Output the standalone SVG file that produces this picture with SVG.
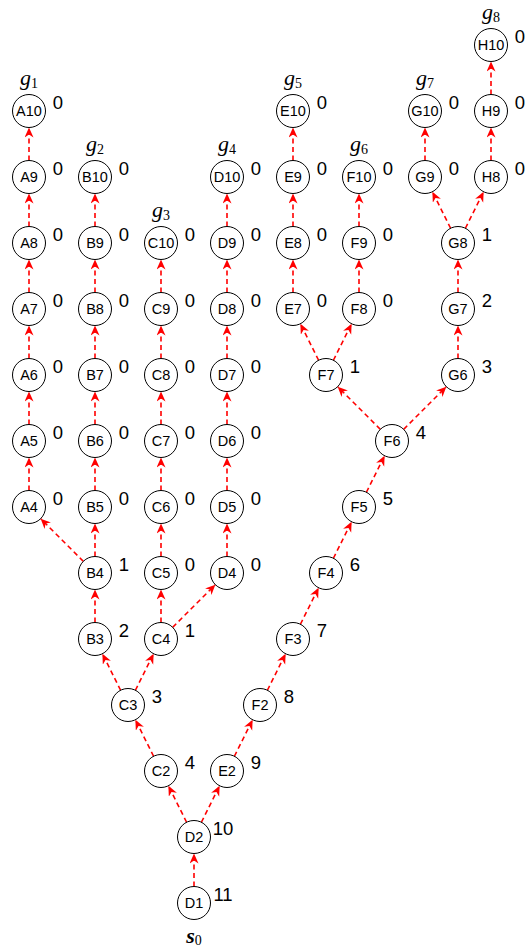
<svg xmlns="http://www.w3.org/2000/svg" width="527" height="950" viewBox="0 0 527 950">
<style>
.n circle{fill:#fff;stroke:#000;stroke-width:1}
.n text.t{font-family:"Liberation Sans",Arial,sans-serif;font-size:14.5px;text-anchor:middle;fill:#000}
.n text.v{font-family:"Liberation Sans",Arial,sans-serif;font-size:18.5px;text-anchor:middle;fill:#000}
.g{font-family:"Liberation Serif","Times New Roman",serif;font-style:italic;font-size:22px;text-anchor:middle;fill:#000}
.g tspan{font-style:normal;font-weight:normal;font-size:14px}
#edges line{stroke:#f00;stroke-width:1.6;stroke-dasharray:5,3.5;marker-end:url(#ah)}
</style>
<defs>
<marker id="ah" markerUnits="userSpaceOnUse" markerWidth="11" markerHeight="10" refX="10" refY="4.5" orient="auto">
<path d="M0,0 L10,4.5 L0,9 L3,4.5 Z" fill="#f00"/>
</marker>
</defs>
<rect width="527" height="950" fill="#fff"/>
<g id="edges">
<line x1="194" y1="886.5" x2="194" y2="853.5"/>
<line x1="186.62" y1="822.24" x2="168.38" y2="785.76"/>
<line x1="201.38" y1="822.24" x2="219.62" y2="785.76"/>
<line x1="153.62" y1="756.24" x2="135.38" y2="719.76"/>
<line x1="120.62" y1="690.24" x2="102.38" y2="653.76"/>
<line x1="135.38" y1="690.24" x2="153.62" y2="653.76"/>
<line x1="95" y1="622.5" x2="95" y2="589.5"/>
<line x1="161" y1="622.5" x2="161" y2="589.5"/>
<line x1="172.67" y1="627.33" x2="215.33" y2="584.67"/>
<line x1="83.33" y1="561.33" x2="40.67" y2="518.67"/>
<line x1="95" y1="556.5" x2="95" y2="523.5"/>
<line x1="29" y1="490.5" x2="29" y2="457.5"/>
<line x1="29" y1="424.5" x2="29" y2="391.5"/>
<line x1="29" y1="358.5" x2="29" y2="325.5"/>
<line x1="29" y1="292.5" x2="29" y2="259.5"/>
<line x1="29" y1="226.5" x2="29" y2="193.5"/>
<line x1="29" y1="160.5" x2="29" y2="127.5"/>
<line x1="95" y1="490.5" x2="95" y2="457.5"/>
<line x1="95" y1="424.5" x2="95" y2="391.5"/>
<line x1="95" y1="358.5" x2="95" y2="325.5"/>
<line x1="95" y1="292.5" x2="95" y2="259.5"/>
<line x1="95" y1="226.5" x2="95" y2="193.5"/>
<line x1="161" y1="556.5" x2="161" y2="523.5"/>
<line x1="161" y1="490.5" x2="161" y2="457.5"/>
<line x1="161" y1="424.5" x2="161" y2="391.5"/>
<line x1="161" y1="358.5" x2="161" y2="325.5"/>
<line x1="161" y1="292.5" x2="161" y2="259.5"/>
<line x1="227" y1="556.5" x2="227" y2="523.5"/>
<line x1="227" y1="490.5" x2="227" y2="457.5"/>
<line x1="227" y1="424.5" x2="227" y2="391.5"/>
<line x1="227" y1="358.5" x2="227" y2="325.5"/>
<line x1="227" y1="292.5" x2="227" y2="259.5"/>
<line x1="227" y1="226.5" x2="227" y2="193.5"/>
<line x1="234.38" y1="756.24" x2="252.62" y2="719.76"/>
<line x1="267.38" y1="690.24" x2="285.62" y2="653.76"/>
<line x1="300.38" y1="624.24" x2="318.62" y2="587.76"/>
<line x1="333.38" y1="558.24" x2="351.62" y2="521.76"/>
<line x1="366.38" y1="492.24" x2="384.62" y2="455.76"/>
<line x1="380.33" y1="429.33" x2="337.67" y2="386.67"/>
<line x1="403.67" y1="429.33" x2="446.33" y2="386.67"/>
<line x1="318.62" y1="360.24" x2="300.38" y2="323.76"/>
<line x1="333.38" y1="360.24" x2="351.62" y2="323.76"/>
<line x1="293" y1="292.5" x2="293" y2="259.5"/>
<line x1="293" y1="226.5" x2="293" y2="193.5"/>
<line x1="293" y1="160.5" x2="293" y2="127.5"/>
<line x1="359" y1="292.5" x2="359" y2="259.5"/>
<line x1="359" y1="226.5" x2="359" y2="193.5"/>
<line x1="458" y1="358.5" x2="458" y2="325.5"/>
<line x1="458" y1="292.5" x2="458" y2="259.5"/>
<line x1="450.62" y1="228.24" x2="432.38" y2="191.76"/>
<line x1="465.38" y1="228.24" x2="483.62" y2="191.76"/>
<line x1="425" y1="160.5" x2="425" y2="127.5"/>
<line x1="491" y1="160.5" x2="491" y2="127.5"/>
<line x1="491" y1="94.5" x2="491" y2="61.5"/>
</g>
<g id="D1" class="n"><circle cx="194" cy="903" r="16.5"/><text class="t" x="194" y="908">D1</text><text class="v" x="223" y="901">11</text></g>
<text class="g" x="194" y="943" font-weight="bold" font-size="21">s<tspan font-size="15" dy="2">0</tspan></text>
<g id="D2" class="n"><circle cx="194" cy="837" r="16.5"/><text class="t" x="194" y="842">D2</text><text class="v" x="223" y="835">10</text></g>
<g id="C2" class="n"><circle cx="161" cy="771" r="16.5"/><text class="t" x="161" y="776">C2</text><text class="v" x="190" y="769">4</text></g>
<g id="E2" class="n"><circle cx="227" cy="771" r="16.5"/><text class="t" x="227" y="776">E2</text><text class="v" x="256" y="769">9</text></g>
<g id="C3" class="n"><circle cx="128" cy="705" r="16.5"/><text class="t" x="128" y="710">C3</text><text class="v" x="157" y="703">3</text></g>
<g id="F2" class="n"><circle cx="260" cy="705" r="16.5"/><text class="t" x="260" y="710">F2</text><text class="v" x="289" y="703">8</text></g>
<g id="B3" class="n"><circle cx="95" cy="639" r="16.5"/><text class="t" x="95" y="644">B3</text><text class="v" x="124" y="637">2</text></g>
<g id="C4" class="n"><circle cx="161" cy="639" r="16.5"/><text class="t" x="161" y="644">C4</text><text class="v" x="190" y="637">1</text></g>
<g id="F3" class="n"><circle cx="293" cy="639" r="16.5"/><text class="t" x="293" y="644">F3</text><text class="v" x="322" y="637">7</text></g>
<g id="B4" class="n"><circle cx="95" cy="573" r="16.5"/><text class="t" x="95" y="578">B4</text><text class="v" x="124" y="571">1</text></g>
<g id="C5" class="n"><circle cx="161" cy="573" r="16.5"/><text class="t" x="161" y="578">C5</text><text class="v" x="190" y="571">0</text></g>
<g id="D4" class="n"><circle cx="227" cy="573" r="16.5"/><text class="t" x="227" y="578">D4</text><text class="v" x="256" y="571">0</text></g>
<g id="F4" class="n"><circle cx="326" cy="573" r="16.5"/><text class="t" x="326" y="578">F4</text><text class="v" x="355" y="571">6</text></g>
<g id="A4" class="n"><circle cx="29" cy="507" r="16.5"/><text class="t" x="29" y="512">A4</text><text class="v" x="58" y="505">0</text></g>
<g id="B5" class="n"><circle cx="95" cy="507" r="16.5"/><text class="t" x="95" y="512">B5</text><text class="v" x="124" y="505">0</text></g>
<g id="C6" class="n"><circle cx="161" cy="507" r="16.5"/><text class="t" x="161" y="512">C6</text><text class="v" x="190" y="505">0</text></g>
<g id="D5" class="n"><circle cx="227" cy="507" r="16.5"/><text class="t" x="227" y="512">D5</text><text class="v" x="256" y="505">0</text></g>
<g id="F5" class="n"><circle cx="359" cy="507" r="16.5"/><text class="t" x="359" y="512">F5</text><text class="v" x="388" y="505">5</text></g>
<g id="A5" class="n"><circle cx="29" cy="441" r="16.5"/><text class="t" x="29" y="446">A5</text><text class="v" x="58" y="439">0</text></g>
<g id="B6" class="n"><circle cx="95" cy="441" r="16.5"/><text class="t" x="95" y="446">B6</text><text class="v" x="124" y="439">0</text></g>
<g id="C7" class="n"><circle cx="161" cy="441" r="16.5"/><text class="t" x="161" y="446">C7</text><text class="v" x="190" y="439">0</text></g>
<g id="D6" class="n"><circle cx="227" cy="441" r="16.5"/><text class="t" x="227" y="446">D6</text><text class="v" x="256" y="439">0</text></g>
<g id="F6" class="n"><circle cx="392" cy="441" r="16.5"/><text class="t" x="392" y="446">F6</text><text class="v" x="421" y="439">4</text></g>
<g id="A6" class="n"><circle cx="29" cy="375" r="16.5"/><text class="t" x="29" y="380">A6</text><text class="v" x="58" y="373">0</text></g>
<g id="B7" class="n"><circle cx="95" cy="375" r="16.5"/><text class="t" x="95" y="380">B7</text><text class="v" x="124" y="373">0</text></g>
<g id="C8" class="n"><circle cx="161" cy="375" r="16.5"/><text class="t" x="161" y="380">C8</text><text class="v" x="190" y="373">0</text></g>
<g id="D7" class="n"><circle cx="227" cy="375" r="16.5"/><text class="t" x="227" y="380">D7</text><text class="v" x="256" y="373">0</text></g>
<g id="F7" class="n"><circle cx="326" cy="375" r="16.5"/><text class="t" x="326" y="380">F7</text><text class="v" x="355" y="373">1</text></g>
<g id="G6" class="n"><circle cx="458" cy="375" r="16.5"/><text class="t" x="458" y="380">G6</text><text class="v" x="487" y="373">3</text></g>
<g id="A7" class="n"><circle cx="29" cy="309" r="16.5"/><text class="t" x="29" y="314">A7</text><text class="v" x="58" y="307">0</text></g>
<g id="B8" class="n"><circle cx="95" cy="309" r="16.5"/><text class="t" x="95" y="314">B8</text><text class="v" x="124" y="307">0</text></g>
<g id="C9" class="n"><circle cx="161" cy="309" r="16.5"/><text class="t" x="161" y="314">C9</text><text class="v" x="190" y="307">0</text></g>
<g id="D8" class="n"><circle cx="227" cy="309" r="16.5"/><text class="t" x="227" y="314">D8</text><text class="v" x="256" y="307">0</text></g>
<g id="E7" class="n"><circle cx="293" cy="309" r="16.5"/><text class="t" x="293" y="314">E7</text><text class="v" x="322" y="307">0</text></g>
<g id="F8" class="n"><circle cx="359" cy="309" r="16.5"/><text class="t" x="359" y="314">F8</text><text class="v" x="388" y="307">0</text></g>
<g id="G7" class="n"><circle cx="458" cy="309" r="16.5"/><text class="t" x="458" y="314">G7</text><text class="v" x="487" y="307">2</text></g>
<g id="A8" class="n"><circle cx="29" cy="243" r="16.5"/><text class="t" x="29" y="248">A8</text><text class="v" x="58" y="241">0</text></g>
<g id="B9" class="n"><circle cx="95" cy="243" r="16.5"/><text class="t" x="95" y="248">B9</text><text class="v" x="124" y="241">0</text></g>
<g id="C10" class="n"><text class="g" x="161" y="217">g<tspan dy="3">3</tspan></text><circle cx="161" cy="243" r="16.5"/><text class="t" x="161" y="248">C10</text><text class="v" x="190" y="241">0</text></g>
<g id="D9" class="n"><circle cx="227" cy="243" r="16.5"/><text class="t" x="227" y="248">D9</text><text class="v" x="256" y="241">0</text></g>
<g id="E8" class="n"><circle cx="293" cy="243" r="16.5"/><text class="t" x="293" y="248">E8</text><text class="v" x="322" y="241">0</text></g>
<g id="F9" class="n"><circle cx="359" cy="243" r="16.5"/><text class="t" x="359" y="248">F9</text><text class="v" x="388" y="241">0</text></g>
<g id="G8" class="n"><circle cx="458" cy="243" r="16.5"/><text class="t" x="458" y="248">G8</text><text class="v" x="487" y="241">1</text></g>
<g id="A9" class="n"><circle cx="29" cy="177" r="16.5"/><text class="t" x="29" y="182">A9</text><text class="v" x="58" y="175">0</text></g>
<g id="B10" class="n"><text class="g" x="95" y="151">g<tspan dy="3">2</tspan></text><circle cx="95" cy="177" r="16.5"/><text class="t" x="95" y="182">B10</text><text class="v" x="124" y="175">0</text></g>
<g id="D10" class="n"><text class="g" x="227" y="151">g<tspan dy="3">4</tspan></text><circle cx="227" cy="177" r="16.5"/><text class="t" x="227" y="182">D10</text><text class="v" x="256" y="175">0</text></g>
<g id="E9" class="n"><circle cx="293" cy="177" r="16.5"/><text class="t" x="293" y="182">E9</text><text class="v" x="322" y="175">0</text></g>
<g id="F10" class="n"><text class="g" x="359" y="151">g<tspan dy="3">6</tspan></text><circle cx="359" cy="177" r="16.5"/><text class="t" x="359" y="182">F10</text><text class="v" x="388" y="175">0</text></g>
<g id="G9" class="n"><circle cx="425" cy="177" r="16.5"/><text class="t" x="425" y="182">G9</text><text class="v" x="454" y="175">0</text></g>
<g id="H8" class="n"><circle cx="491" cy="177" r="16.5"/><text class="t" x="491" y="182">H8</text><text class="v" x="520" y="175">0</text></g>
<g id="A10" class="n"><text class="g" x="29" y="85">g<tspan dy="3">1</tspan></text><circle cx="29" cy="111" r="16.5"/><text class="t" x="29" y="116">A10</text><text class="v" x="58" y="109">0</text></g>
<g id="E10" class="n"><text class="g" x="293" y="85">g<tspan dy="3">5</tspan></text><circle cx="293" cy="111" r="16.5"/><text class="t" x="293" y="116">E10</text><text class="v" x="322" y="109">0</text></g>
<g id="G10" class="n"><text class="g" x="425" y="85">g<tspan dy="3">7</tspan></text><circle cx="425" cy="111" r="16.5"/><text class="t" x="425" y="116">G10</text><text class="v" x="454" y="109">0</text></g>
<g id="H9" class="n"><circle cx="491" cy="111" r="16.5"/><text class="t" x="491" y="116">H9</text><text class="v" x="520" y="109">0</text></g>
<g id="H10" class="n"><text class="g" x="491" y="19">g<tspan dy="3">8</tspan></text><circle cx="491" cy="45" r="16.5"/><text class="t" x="491" y="50">H10</text><text class="v" x="520" y="43">0</text></g>
</svg>
